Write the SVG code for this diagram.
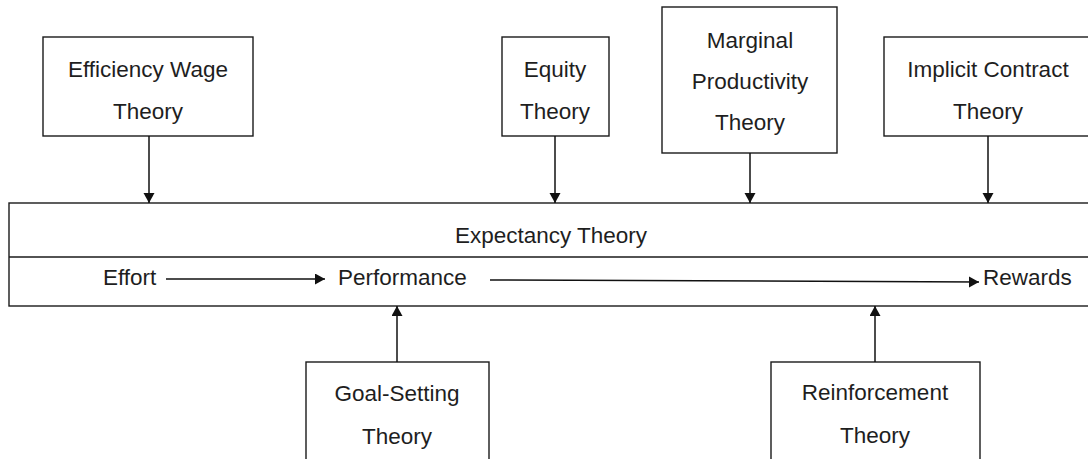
<svg xmlns="http://www.w3.org/2000/svg" width="1088" height="459" viewBox="0 0 1088 459">
  <style>
    .box { fill: #ffffff; stroke: #1a1a1a; stroke-width: 1.4; }
    .lbl { font-family: "Liberation Sans", Arial, sans-serif; font-size: 22.5px; fill: #1e1e1e; text-anchor: middle; }
    .lbl-start { font-family: "Liberation Sans", Arial, sans-serif; font-size: 22.5px; fill: #1e1e1e; }
    .wire { stroke: #111111; stroke-width: 1.5; fill: none; marker-end: url(#head); }
  </style>
  <defs>
    <marker id="head" markerUnits="userSpaceOnUse" markerWidth="12" markerHeight="12" refX="10" refY="5.5" orient="auto">
      <path d="M0,0 L10,5.5 L0,11 z" fill="#111111"/>
    </marker>
  </defs>
  <rect width="1088" height="459" fill="#ffffff"/>

  <!-- central model -->
  <g id="expectancy">
    <rect class="box" x="9" y="203" width="1100" height="103"/>
    <line x1="9" y1="257" x2="1109" y2="257" stroke="#1a1a1a" stroke-width="1.4"/>
    <text class="lbl" x="551" y="243">Expectancy Theory</text>
    <text class="lbl-start" x="103" y="285">Effort</text>
    <text class="lbl-start" x="338" y="285">Performance</text>
    <text class="lbl-start" x="983" y="285">Rewards</text>
  </g>

  <!-- contributing theories, top row -->
  <g id="efficiency-wage">
    <rect class="box" x="43" y="37" width="210" height="99"/>
    <text class="lbl" x="148" y="77">Efficiency Wage</text>
    <text class="lbl" x="148" y="119">Theory</text>
  </g>
  <g id="equity">
    <rect class="box" x="502" y="37" width="107" height="99"/>
    <text class="lbl" x="555" y="77">Equity</text>
    <text class="lbl" x="555" y="119">Theory</text>
  </g>
  <g id="marginal-productivity">
    <rect class="box" x="662" y="7" width="175" height="146"/>
    <text class="lbl" x="750" y="48">Marginal</text>
    <text class="lbl" x="750" y="89">Productivity</text>
    <text class="lbl" x="750" y="130">Theory</text>
  </g>
  <g id="implicit-contract">
    <rect class="box" x="884" y="37" width="220" height="99"/>
    <text class="lbl" x="988" y="77">Implicit Contract</text>
    <text class="lbl" x="988" y="119">Theory</text>
  </g>

  <!-- contributing theories, bottom row -->
  <g id="goal-setting">
    <rect class="box" x="306" y="362" width="183" height="120"/>
    <text class="lbl" x="397" y="401">Goal-Setting</text>
    <text class="lbl" x="397" y="444">Theory</text>
  </g>
  <g id="reinforcement">
    <rect class="box" x="771" y="362" width="209" height="120"/>
    <text class="lbl" x="875" y="400">Reinforcement</text>
    <text class="lbl" x="875" y="443">Theory</text>
  </g>

  <!-- connectors -->
  <g id="connectors">
    <line class="wire" x1="149" y1="136" x2="149" y2="203"/>
    <line class="wire" x1="555" y1="136" x2="555" y2="203"/>
    <line class="wire" x1="750" y1="153" x2="750" y2="203"/>
    <line class="wire" x1="988" y1="136" x2="988" y2="203"/>
    <line class="wire" x1="397" y1="362" x2="397" y2="306"/>
    <line class="wire" x1="875" y1="362" x2="875" y2="306"/>
    <line class="wire" x1="166" y1="279" x2="325" y2="279"/>
    <line class="wire" x1="490" y1="280" x2="979" y2="282"/>
  </g>
</svg>
